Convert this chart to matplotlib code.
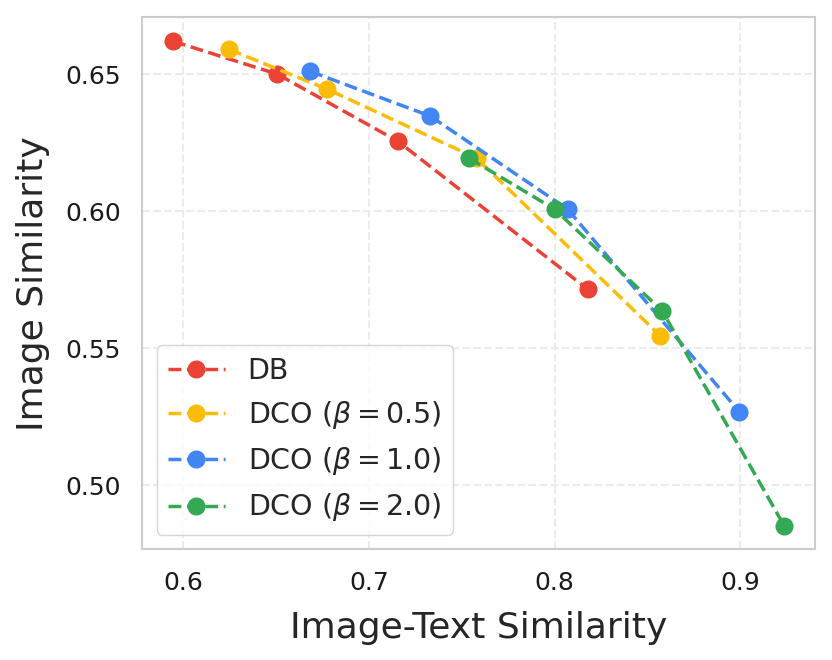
import numpy as np
import matplotlib.pyplot as plt
import seaborn as sns

sns.set_style("whitegrid", {"grid.linestyle": "--"})
plt.rcParams['font.family'] = ['DejaVu Sans']

# data
labels = ["DB", r"DCO ($\beta=0.5$)", r"DCO ($\beta=1.0$)", r"DCO ($\beta=2.0$)"]
colors = ["#EA4335", "#FBBC05", "#4285F4", "#34A853"]

db_x = [0.5946, 0.6507, 0.7156, 0.8178]
db_y = [0.662, 0.650, 0.6255, 0.5715]
dco05_x = [0.6248, 0.6776, 0.758, 0.857]
dco05_y = [0.659, 0.6445, 0.6193, 0.5544]
dco10_x = [0.6685, 0.733, 0.807, 0.8995]
dco10_y = [0.651, 0.6347, 0.6007, 0.5267]
dco20_x = [0.754, 0.800, 0.858, 0.9237]
dco20_y = [0.6193, 0.6007, 0.5635, 0.485]

series = [(db_x, db_y), (dco05_x, dco05_y), (dco10_x, dco10_y), (dco20_x, dco20_y)]

fig, ax = plt.subplots(figsize=(8.32, 6.6), dpi=100)
for (xs, ys), lab, c in zip(series, labels, colors):
    ax.plot(xs, ys, linestyle="--", marker="o", color=c, label=lab,
            linewidth=2.5, markersize=12)

ax.set_xlim(0.578, 0.9404)
ax.set_ylim(0.4766, 0.6708)
ax.set_xticks([0.6, 0.7, 0.8, 0.9])
ax.set_yticks([0.50, 0.55, 0.60, 0.65])
ax.set_yticklabels(["0.50", "0.55", "0.60", "0.65"])
ax.tick_params(labelsize=18, pad=12, colors="#1a1a1a")
ax.set_xlabel("Image-Text Similarity", fontsize=26, labelpad=12)
ax.set_ylabel("Image Similarity", fontsize=26, labelpad=11)
ax.grid(True, linestyle="--", linewidth=1.5, color="#ebebeb")
for s in ax.spines.values():
    s.set_color("#cccccc")
    s.set_linewidth(1.5)
ax.legend(loc="lower left", fontsize=20.5)

plt.subplots_adjust(left=0.171, right=0.98, top=0.974, bottom=0.168)
plt.savefig("out.png", dpi=100)
